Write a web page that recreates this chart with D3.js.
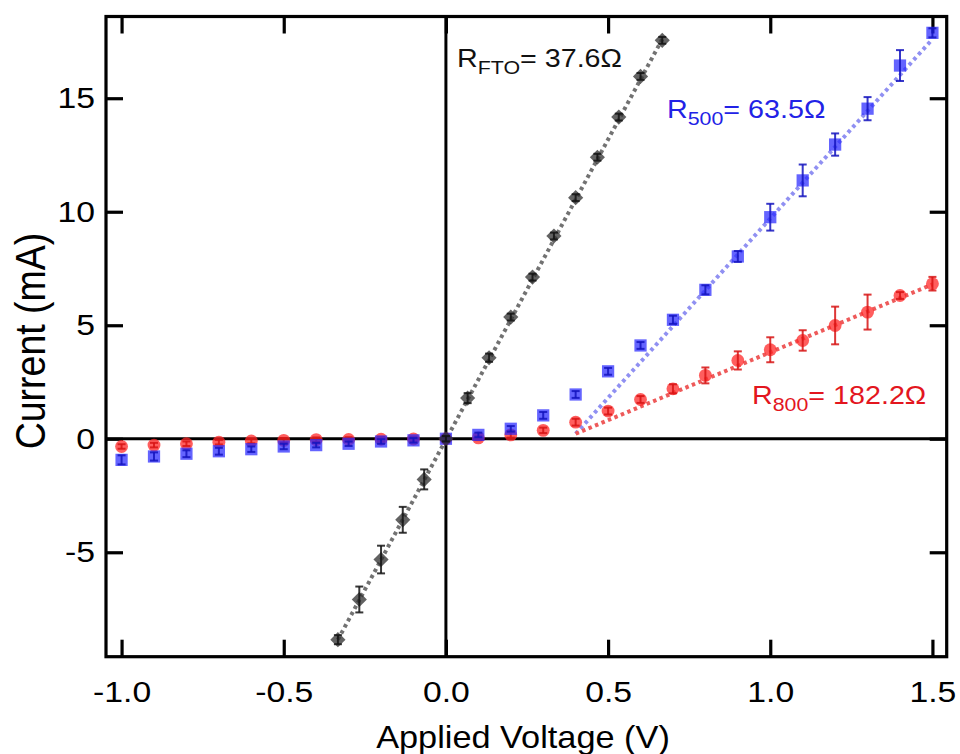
<!DOCTYPE html>
<html>
<head>
<meta charset="utf-8">
<script src="https://cdn.jsdelivr.net/npm/d3@7"></script>
<style>
  body { margin: 0; background: #fff; }
  text { font-family: "Liberation Sans", Arial, Helvetica, sans-serif; }
</style>
</head>
<body>
<div id="chart"></div>
<script>
// data
var vFTO = [-0.333,-0.267,-0.2,-0.133,-0.067,0,0.067,0.133,0.2,0.267,0.333,0.4,0.467,0.533,0.6,0.667];
var iFTO = [-8.85,-7.08,-5.32,-3.57,-1.79,0,1.79,3.57,5.36,7.12,8.93,10.62,12.40,14.17,15.96,17.55];
var eFTO = [0.2,0.57,0.61,0.57,0.44,0.12,0.22,0.18,0.15,0.15,0.15,0.15,0.15,0.15,0.15,0.15];

var vSweep = [-1.0,-0.9,-0.8,-0.7,-0.6,-0.5,-0.4,-0.3,-0.2,-0.1,0,0.1,0.2,0.3,0.4,0.5,0.6,0.7,0.8,0.9,1.0,1.1,1.2,1.3,1.4,1.5];
var i500 = [-0.93,-0.78,-0.66,-0.55,-0.46,-0.34,-0.28,-0.22,-0.12,-0.07,0,0.17,0.44,1.03,1.95,2.97,4.11,5.24,6.56,8.03,9.76,11.38,12.96,14.54,16.44,17.88];
var e500 = [0.2,0.18,0.15,0.15,0.12,0.12,0.1,0.1,0.1,0.1,0.1,0.1,0.12,0.15,0.15,0.15,0.15,0.18,0.2,0.24,0.59,0.70,0.49,0.51,0.68,0.2];
var i800 = [-0.34,-0.28,-0.22,-0.15,-0.1,-0.07,-0.04,-0.03,-0.02,-0.01,0,0.04,0.17,0.37,0.73,1.22,1.73,2.2,2.79,3.45,3.92,4.33,4.99,5.58,6.31,6.83];
var e800 = [0.1,0.1,0.1,0.1,0.1,0.1,0.1,0.1,0.1,0.1,0.1,0.1,0.12,0.12,0.15,0.15,0.15,0.2,0.35,0.4,0.55,0.45,0.83,0.77,0.15,0.3];

// fitted lines (end points)
var fitFTO = [[-0.333,-8.85],[0.667,17.6]];
var fit500 = [[0.4,0.22],[1.5,17.6]];
var fit800 = [[0.4,0.22],[1.5,6.8]];

var xTicks = [-1.0,-0.5,0.0,0.5,1.0,1.5];
var yTicks = [-5,0,5,10,15];

var WIDTH = 960, HEIGHT = 754;
var LEFT = 106, RIGHT = 946.7, TOP = 16.5, BOTTOM = 656.7;
var SX = 1.125; // the text in the picture is a bit wider than tall

var svg = d3.select("#chart").append("svg")
  .attr("width", WIDTH)
  .attr("height", HEIGHT);

var scaleX = d3.scaleLinear().domain([-1.048, 1.544]).range([LEFT, RIGHT]);
var scaleY = d3.scaleLinear().domain([-9.6, 18.6]).range([BOTTOM, TOP]);

// zero lines
svg.append("line")
  .attr("x1", LEFT).attr("x2", RIGHT)
  .attr("y1", scaleY(0)).attr("y2", scaleY(0))
  .style("stroke", "#000").style("stroke-width", 3);
svg.append("line")
  .attr("x1", scaleX(0)).attr("x2", scaleX(0))
  .attr("y1", TOP).attr("y2", BOTTOM)
  .style("stroke", "#000").style("stroke-width", 3);

// axes, ticks pointing inwards
var TICK = 17;
var xAxis = svg.append("g")
  .attr("transform", "translate(0," + BOTTOM + ")")
  .call(d3.axisBottom(scaleX).tickValues(xTicks).tickSizeInner(-TICK).tickSizeOuter(0)
    .tickPadding(24).tickFormat(function(d){ return d.toFixed(1); }));
var xAxisTop = svg.append("g")
  .attr("transform", "translate(0," + TOP + ")")
  .call(d3.axisTop(scaleX).tickValues(xTicks).tickSizeInner(-TICK).tickSizeOuter(0).tickFormat(""));
var yAxis = svg.append("g")
  .attr("transform", "translate(" + LEFT + ",0)")
  .call(d3.axisLeft(scaleY).tickValues(yTicks).tickSizeInner(-TICK).tickSizeOuter(0)
    .tickFormat(function(d){ return String(d); }));
var yAxisRight = svg.append("g")
  .attr("transform", "translate(" + RIGHT + ",0)")
  .call(d3.axisRight(scaleY).tickValues(yTicks).tickSizeInner(-TICK).tickSizeOuter(0).tickFormat(""));

svg.selectAll(".domain").remove();
svg.selectAll(".tick line").style("stroke", "#000").style("stroke-width", 3.2);

xAxis.selectAll("text")
  .attr("transform", "scale(" + SX + ",1)")
  .style("font-size", "30px").style("fill", "#000");
yAxis.selectAll("text")
  .attr("x", -11 / SX)
  .attr("transform", "scale(" + SX + ",1)")
  .style("font-size", "30px").style("fill", "#000");

// frame
svg.append("rect")
  .attr("x", LEFT).attr("y", TOP)
  .attr("width", RIGHT - LEFT).attr("height", BOTTOM - TOP)
  .style("fill", "none").style("stroke", "#000").style("stroke-width", 3.2);

// axis titles
svg.append("text")
  .attr("transform", "translate(523,748) scale(" + SX + ",1)")
  .style("text-anchor", "middle")
  .style("font-size", "30.5px")
  .text("Applied Voltage (V)");

svg.append("text")
  .attr("transform", "translate(45,341) scale(" + SX + ",1) rotate(-90)")
  .style("text-anchor", "middle")
  .style("font-size", "37.5px")
  .text("Current (mA)");

// fit lines
var line = d3.line()
  .x(function(d){ return scaleX(d[0]); })
  .y(function(d){ return scaleY(d[1]); });

function fitLine(pts, color, w) {
  svg.append("path")
    .datum(pts)
    .attr("d", line)
    .style("fill", "none")
    .style("stroke", color)
    .style("stroke-width", w)
    .style("stroke-dasharray", "3.5,3.5");
}
fitLine(fitFTO, "#727272", 4);
fitLine(fit500, "#9090f2", 4);
fitLine(fit800, "#ee5a5a", 4);

// markers and error bars
function series(vs, is, es, sym, size, fill, barColor, rot) {
  var data = vs.map(function(v, k){ return {v: v, i: is[k], e: es[k]}; });
  var g = svg.append("g");
  g.selectAll("path.mark")
    .data(data)
    .enter()
    .append("path")
    .attr("class", "mark")
    .attr("d", d3.symbol().type(sym).size(size))
    .attr("transform", function(d){
      return "translate(" + scaleX(d.v) + "," + scaleY(d.i) + ") rotate(" + rot + ")";
    })
    .style("fill", fill);

  var bars = g.selectAll("g.bar")
    .data(data)
    .enter()
    .append("g")
    .attr("class", "bar")
    .style("stroke", barColor)
    .style("stroke-width", 2);
  bars.append("line")
    .attr("x1", function(d){ return scaleX(d.v); })
    .attr("x2", function(d){ return scaleX(d.v); })
    .attr("y1", function(d){ return scaleY(d.i - d.e); })
    .attr("y2", function(d){ return scaleY(d.i + d.e); });
  bars.append("line")
    .attr("x1", function(d){ return scaleX(d.v) - 4; })
    .attr("x2", function(d){ return scaleX(d.v) + 4; })
    .attr("y1", function(d){ return scaleY(d.i - d.e); })
    .attr("y2", function(d){ return scaleY(d.i - d.e); });
  bars.append("line")
    .attr("x1", function(d){ return scaleX(d.v) - 4; })
    .attr("x2", function(d){ return scaleX(d.v) + 4; })
    .attr("y1", function(d){ return scaleY(d.i + d.e); })
    .attr("y2", function(d){ return scaleY(d.i + d.e); });
}

series(vSweep, i800, e800, d3.symbolCircle, 130, "rgba(255,40,40,0.75)", "rgba(215,20,20,0.85)", 0);
series(vSweep, i500, e500, d3.symbolSquare, 150, "rgba(40,40,255,0.72)", "rgba(20,20,190,0.85)", 0);
series(vFTO, iFTO, eFTO, d3.symbolSquare, 115, "rgba(45,45,45,0.75)", "rgba(20,20,20,0.85)", 45);

// resistance annotations
function label(xp, yp, sub, rest, color, dy) {
  var t = svg.append("text")
    .attr("transform", "translate(" + xp + "," + yp + ") scale(" + SX + ",1)")
    .style("font-size", "25.5px")
    .style("fill", color);
  t.append("tspan").text("R");
  t.append("tspan").attr("dy", dy).style("font-size", "19px").text(sub);
  t.append("tspan").attr("dy", -dy).text(rest);
}
label(457, 67, "FTO", "= 37.6\u03A9", "#111", 6.5);
label(667, 118, "500", "= 63.5\u03A9", "#2222e6", 7);
label(752, 404, "800", "= 182.2\u03A9", "#e3161e", 7);
</script>
</body>
</html>
